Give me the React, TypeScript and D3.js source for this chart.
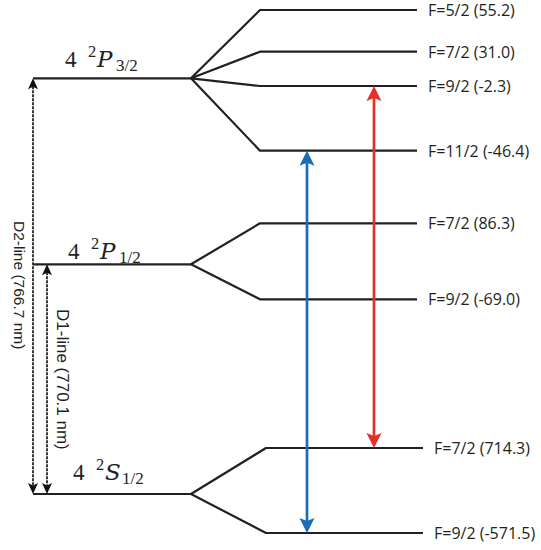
import React from "react";
import * as d3 from "d3";

const W = 541;
const H = 550;

// Fine-structure terms (diagram position units 0..100)
const termN = ["4", "4", "4"];
const termLetter = ["P", "P", "S"];
const termJ = ["3/2", "1/2", "1/2"];
const termPos = [86.94, 51.38, 7.46];

// Hyperfine sublevels
const hfParent = [0, 0, 0, 0, 1, 1, 2, 2];
const hfF = ["5/2", "7/2", "9/2", "11/2", "7/2", "9/2", "7/2", "9/2"];
const hfShift = ["55.2", "31.0", "-2.3", "-46.4", "86.3", "-69.0", "714.3", "-571.5"];
const hfPos = [100, 92.03, 85.47, 73.1, 59.22, 44.68, 16.25, 0];

// D-line transitions (from ground term to excited term)
const dLabel = ["D2-line (766.7 nm)", "D1-line (770.1 nm)"];
const dUpper = [0, 1];
const dLower = [2, 2];

// Laser transitions (hyperfine index lower -> upper)
const laserLower = [7, 6];
const laserUpper = [3, 2];
const laserColor = ["#1b6cb6", "#e4302a"];

// layout
const y = d3.scaleLinear().domain([0, 100]).range([533, 10]);
const mainX0 = 33;
const mainX1 = 191;
const subX0 = [260, 260, 266];
const subX1 = [417, 417, 423];
const hfLabelX = [428, 428, 434];
const termLabelX = [65, 68, 73];
const termLabelGap = [11.6, 5.5, 14];
const subOffset = [51, 51, 49];
const dX = [33, 47];
const dTextX = [13.5, 56.6];
const dTextY = [221, 309];
const dTextSize = [15.5, 17];
const laserX = [307, 374];

const LINE = "#231f20";

function head(x: number, tip: number, dir: number, len: number, hw: number, notch: number) {
  const p = d3.path();
  p.moveTo(x, tip);
  p.lineTo(x + hw, tip + dir * len);
  p.lineTo(x, tip + dir * notch);
  p.lineTo(x - hw, tip + dir * len);
  p.closePath();
  return p.toString();
}

export default function App() {
  return (
    <svg
      width={W}
      height={H}
      viewBox={`0 0 ${W} ${H}`}
      style={{ position: "absolute", left: 0, top: 0, background: "#fff" }}
    >
      {/* main terms */}
      {termPos.map((t, i) => {
        const yy = y(t);
        const x0 = termLabelX[i];
        return (
          <g key={"t" + i}>
            <line x1={mainX0} x2={mainX1} y1={yy} y2={yy} stroke={LINE} strokeWidth={2.2} />
            <text
              x={x0}
              y={yy - termLabelGap[i]}
              fontFamily="'Liberation Serif', serif"
              fontSize={23}
              fill="#222"
            >
              <tspan>{termN[i]}</tspan>
              <tspan x={x0 + 23} dy={-10} fontSize={16.5}>2</tspan>
              <tspan
                x={x0 + 32}
                dy={10}
                fontStyle="italic"
                fontFamily="'DejaVu Serif', serif"
                fontSize={23}
              >
                {termLetter[i]}
              </tspan>
              <tspan x={x0 + subOffset[i]} dy={4} fontSize={17}>{termJ[i]}</tspan>
            </text>
          </g>
        );
      })}

      {/* hyperfine sublevels */}
      {hfPos.map((p, i) => {
        const par = hfParent[i];
        const yy = y(p);
        const y0 = y(termPos[par]);
        const path = d3.line()([
          [mainX1, y0],
          [subX0[par], yy],
          [subX1[par], yy],
        ]);
        return (
          <g key={"h" + i}>
            <path d={path || ""} fill="none" stroke={LINE} strokeWidth={2.2} strokeLinejoin="round" />
            <text
              x={hfLabelX[par]}
              y={yy + 6}
              fontFamily="'Open Sans', sans-serif"
              fontSize={16}
              fill="#231f20"
            >
              {`F=${hfF[i]} (${hfShift[i]})`}
            </text>
          </g>
        );
      })}

      {/* D lines */}
      {dLabel.map((lab, i) => {
        const x = dX[i];
        const yTop = y(termPos[dUpper[i]]);
        const yBot = y(termPos[dLower[i]]);
        return (
          <g key={"d" + i}>
            <line
              x1={x}
              x2={x}
              y1={yTop + 8}
              y2={yBot - 8}
              stroke="#3a3a3a"
              strokeWidth={2}
              strokeDasharray="3 1"
            />
            <path d={head(x, yTop, 1, 11, 5, 8.5)} fill="#111" />
            <path d={head(x, yBot, -1, 11, 5, 8.5)} fill="#111" />
            <text
              transform={`translate(${dTextX[i]},${dTextY[i]}) rotate(90)`}
              fontFamily="'Liberation Sans', Arial, sans-serif"
              fontSize={dTextSize[i]}
              fill="#231f20"
            >
              {lab}
            </text>
          </g>
        );
      })}

      {/* laser transitions */}
      {laserLower.map((lo, i) => {
        const x = laserX[i];
        const yLo = y(hfPos[lo]);
        const yUp = y(hfPos[laserUpper[i]]);
        return (
          <g key={"l" + i}>
            <line x1={x} x2={x} y1={yUp + 12} y2={yLo - 12} stroke={laserColor[i]} strokeWidth={2.7} />
            <path d={head(x, yUp, 1, 15, 7.5, 12)} fill={laserColor[i]} />
            <path d={head(x, yLo, -1, 15, 7.5, 12)} fill={laserColor[i]} />
          </g>
        );
      })}
    </svg>
  );
}
